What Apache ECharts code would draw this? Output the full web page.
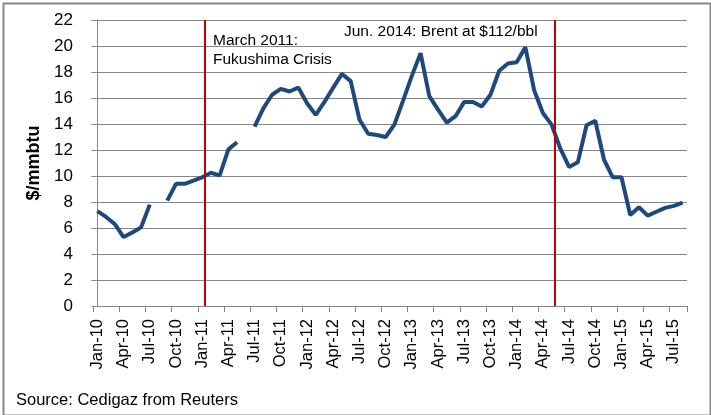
<!DOCTYPE html>
<html>
<head>
<meta charset="utf-8">
<script src="https://cdn.jsdelivr.net/npm/echarts@6/dist/echarts.min.js"></script>
<style>
html,body{margin:0;padding:0;background:#fff;}
#chart{width:711px;height:415px;}
</style>
</head>
<body>
<div id="chart"></div>
<script>
// Monthly categories Jan-10 .. Aug-15
var months = ['Jan','Feb','Mar','Apr','May','Jun','Jul','Aug','Sep','Oct','Nov','Dec'];
var categories = [];
for (var y = 10; y <= 15; y++) {
  for (var m = 0; m < 12; m++) {
    if (y === 15 && m > 7) break;
    categories.push(months[m] + '-' + y);
  }
}

// $/mmbtu values (null = gap)
var prices2010 = [7.3, 6.85, 6.3, 5.3, 5.65, 6.05, 7.8, null, 8.1, 9.4, 9.4, 9.65];
var prices2011 = [9.9, 10.25, 10.05, 12.05, 12.6, null, 13.8, 15.2, 16.25, 16.7, 16.5, 16.8];
var prices2012 = [15.6, 14.7, 15.7, 16.8, 17.85, 17.3, 14.35, 13.25, 13.15, 13.0, 13.95, 15.8];
var prices2013 = [17.7, 19.45, 16.15, 15.1, 14.1, 14.6, 15.7, 15.7, 15.35, 16.25, 18.1, 18.65];
var prices2014 = [18.75, 19.9, 16.6, 14.85, 13.95, 12.1, 10.7, 11.05, 13.9, 14.25, 11.25, 9.9];
var prices2015 = [9.9, 7.0, 7.6, 6.95, 7.25, 7.55, 7.7, 7.95];
var prices = [].concat(prices2010, prices2011, prices2012, prices2013, prices2014, prices2015);

var yTicks = {min: 0, max: 22, interval: 2};

// event markers (category index position)
var eventPositions = [12.33, 52.4];
var eventLabels = ['March 2011:', 'Fukushima Crisis', 'Jun. 2014: Brent at $112/bbl'];
var sourceText = 'Source: Cedigaz from Reuters';
var yAxisTitle = '$/mmbtu';

var FONT = 'Liberation Sans';
var GRID = {left: 93, top: 20, right: 24, bottom: 109};

var chart = echarts.init(document.getElementById('chart'), null, {renderer: 'canvas'});
chart.setOption({
  animation: false,
  backgroundColor: '#ffffff',
  textStyle: {fontFamily: FONT},
  grid: GRID,
  xAxis: [{
    type: 'category',
    data: categories,
    boundaryGap: true,
    axisLine: {show: true, lineStyle: {color: '#868686', width: 1}},
    axisTick: {show: true, interval: 2, length: 6, lineStyle: {color: '#868686'}},
    axisLabel: {interval: 2, rotate: 90, margin: 13, fontSize: 16.5, color: '#000', fontFamily: FONT},
    splitLine: {show: false}
  }, {
    type: 'value',
    min: -0.5,
    max: categories.length - 0.5,
    show: false
  }],
  yAxis: {
    type: 'value',
    min: yTicks.min, max: yTicks.max, interval: yTicks.interval,
    name: yAxisTitle,
    nameLocation: 'middle',
    nameRotate: 90,
    nameGap: 48,
    nameTextStyle: {fontSize: 18, fontWeight: 'bold', color: '#000', fontFamily: FONT},
    axisLine: {show: true, lineStyle: {color: '#868686', width: 1}},
    axisTick: {show: true, length: 6, lineStyle: {color: '#868686'}},
    axisLabel: {margin: 20, fontSize: 17, color: '#000', fontFamily: FONT},
    splitLine: {show: true, lineStyle: {color: '#868686', width: 1}}
  },
  series: [{
    name: 'price',
    type: 'line',
    data: prices,
    symbol: 'none',
    connectNulls: false,
    lineStyle: {color: '#1F497D', width: 4},
    itemStyle: {color: '#1F497D'},
    z: 3
  }, {
    name: 'events',
    type: 'line',
    xAxisIndex: 1,
    data: [],
    symbol: 'none',
    markLine: {
      silent: true,
      symbol: ['none', 'none'],
      label: {show: false},
      lineStyle: {color: '#C00000', width: 2, type: 'solid'},
      data: eventPositions.map(function (p) { return {xAxis: p}; })
    },
    z: 4
  }],
  graphic: [
    {type: 'rect', left: 1, top: 1, shape: {width: 707, height: 412},
     style: {fill: 'none', stroke: '#878787', lineWidth: 2}, silent: true},
    {type: 'text', left: 213, top: 33, style: {text: eventLabels[0], font: '15.5px "' + FONT + '"', fill: '#000'}},
    {type: 'text', left: 213, top: 52, style: {text: eventLabels[1], font: '15.5px "' + FONT + '"', fill: '#000'}},
    {type: 'text', left: 344, top: 24, style: {text: eventLabels[2], font: '15.5px "' + FONT + '"', fill: '#000'}},
    {type: 'text', left: 16, top: 392, style: {text: sourceText, font: '16.5px "' + FONT + '"', fill: '#000'}}
  ]
});
</script>
</body>
</html>
